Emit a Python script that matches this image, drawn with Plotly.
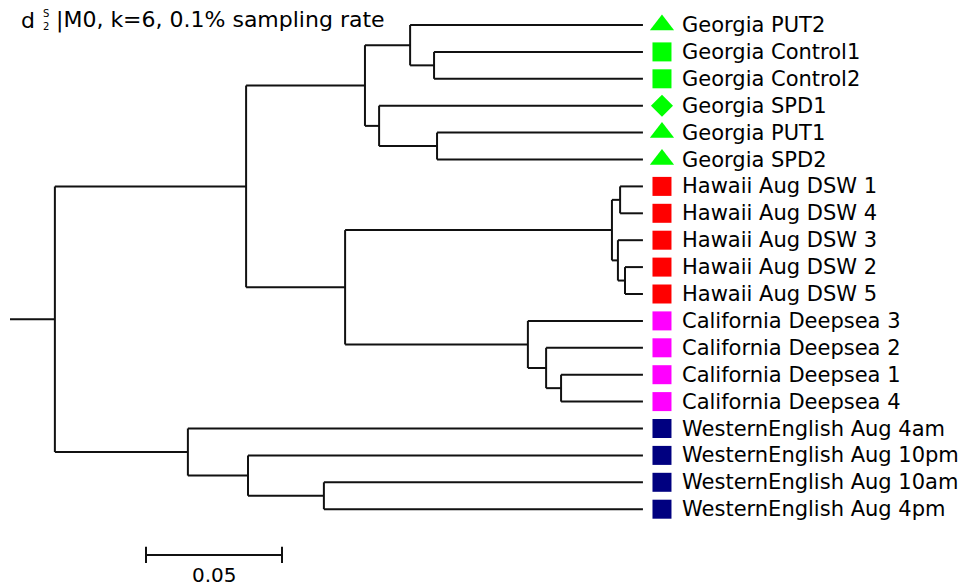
import plotly.graph_objects as go

# ---------------- data ----------------
tip_labels = [
    "Georgia PUT2", "Georgia Control1", "Georgia Control2", "Georgia SPD1",
    "Georgia PUT1", "Georgia SPD2",
    "Hawaii Aug DSW 1", "Hawaii Aug DSW 4", "Hawaii Aug DSW 3",
    "Hawaii Aug DSW 2", "Hawaii Aug DSW 5",
    "California Deepsea 3", "California Deepsea 2", "California Deepsea 1",
    "California Deepsea 4",
    "WesternEnglish Aug 4am", "WesternEnglish Aug 10pm",
    "WesternEnglish Aug 10am", "WesternEnglish Aug 4pm",
]
tip_groups = (["Georgia"] * 6 + ["Hawaii"] * 5 + ["California"] * 4
              + ["WesternEnglish"] * 4)
tip_symbols = ["triangle-up", "square", "square", "diamond", "triangle-up",
               "triangle-up"] + ["square"] * 13

# internal nodes (linkage style): node id = n_tips + index
merge_left = [1, 0, 4, 3, 20, 6, 9, 8, 24, 13, 12, 11, 27, 23, 17, 16, 15, 32]
merge_right = [2, 19, 5, 21, 22, 7, 10, 25, 26, 14, 28, 29, 30, 31, 18, 33, 34, 35]
merge_depth = [0.1559, 0.1471, 0.1570, 0.1357, 0.1305,
               0.2243, 0.2261, 0.2235, 0.2213,
               0.2026, 0.1971, 0.1904,
               0.1232, 0.0868,
               0.1154, 0.0875, 0.0654,
               0.0165]
tip_depth = 0.2327
scale_bar = [0.05, 0.10]
scale_label = "0.05"

group_colors = {"Georgia": "#00FF00", "Hawaii": "#FF0000",
                "California": "#FF00FF", "WesternEnglish": "#000080"}

# ---------------- layout of the tree ----------------
n_tips = len(tip_labels)
pos = {i: (tip_depth, float(i)) for i in range(n_tips)}
for k, (a, b, d) in enumerate(zip(merge_left, merge_right, merge_depth)):
    pos[n_tips + k] = (d, (pos[a][1] + pos[b][1]) / 2)
root = n_tips + len(merge_depth) - 1

xs, ys = [], []
for k, (a, b, d) in enumerate(zip(merge_left, merge_right, merge_depth)):
    ya, yb = pos[a][1], pos[b][1]
    xs += [d, d, None]; ys += [ya, yb, None]
    for c in (a, b):
        xs += [d, pos[c][0], None]; ys += [pos[c][1], pos[c][1], None]
# root stub
xs += [0, pos[root][0], None]; ys += [pos[root][1], pos[root][1], None]

FONT = "DejaVu Sans"
fig = go.Figure()
fig.add_trace(go.Scatter(x=xs, y=ys, mode="lines",
                         line=dict(color="#111111", width=2),
                         hoverinfo="skip"))

MARK_GAP = 0.0070
LABEL_GAP = 0.0136
sizes = {"square": 19, "triangle-up": 21, "diamond": 17}
fig.add_trace(go.Scatter(
    x=[tip_depth + MARK_GAP] * n_tips,
    y=list(range(n_tips)),
    mode="markers", opacity=1,
    marker=dict(symbol=tip_symbols, opacity=1,
                size=[sizes[s] for s in tip_symbols],
                color=[group_colors[g] for g in tip_groups],
                line=dict(width=0)),
    hovertext=tip_labels, hoverinfo="text"))

for i, lab in enumerate(tip_labels):
    fig.add_annotation(x=tip_depth + LABEL_GAP, y=i, xref="x", yref="y",
                       text=lab, showarrow=False, xanchor="left",
                       yanchor="middle",
                       font=dict(family=FONT, size=21, color="black"))

# scale bar
SB_Y = 19.7
CAP = 0.3
sx = [scale_bar[0], scale_bar[1], None, scale_bar[0], scale_bar[0], None,
      scale_bar[1], scale_bar[1]]
sy = [SB_Y, SB_Y, None, SB_Y - CAP, SB_Y + CAP, None, SB_Y - CAP, SB_Y + CAP]
fig.add_trace(go.Scatter(x=sx, y=sy, mode="lines",
                         line=dict(color="#111111", width=2),
                         hoverinfo="skip"))
fig.add_annotation(x=sum(scale_bar) / 2, y=20.45, xref="x", yref="y",
                   text=scale_label, showarrow=False,
                   font=dict(family=FONT, size=20, color="black"))

# title: d with stacked sub/superscript
W, H = 959, 588
def px(x): return x / W
def py(y): return 1 - y / H

fig.add_annotation(x=px(19), y=py(20), xref="paper", yref="paper",
                   text="d", showarrow=False, xanchor="left", yanchor="middle",
                   font=dict(family=FONT, size=22, color="black"))
fig.add_annotation(x=px(46), y=py(20), xref="paper", yref="paper",
                   text="S<br>2", showarrow=False, xanchor="center",
                   yanchor="middle", align="center",
                   font=dict(family=FONT, size=10, color="black"))
fig.add_annotation(x=px(54), y=py(20), xref="paper", yref="paper",
                   text="|M0, k=6, 0.1% sampling rate", showarrow=False,
                   xanchor="left", yanchor="middle",
                   font=dict(family=FONT, size=22, color="black"))

fig.update_layout(
    width=W, height=H, margin=dict(l=0, r=0, t=0, b=0),
    paper_bgcolor="white", plot_bgcolor="white", showlegend=False,
    xaxis=dict(range=[-10 / 2720, 949 / 2720], visible=False, fixedrange=True),
    yaxis=dict(range=[563 / 26.9, -25 / 26.9], visible=False, fixedrange=True),
)
fig.write_html("out.html", config={"displayModeBar": False},
               post_script="document.body.style.margin='0';"
                           "document.body.style.overflow='hidden';")
